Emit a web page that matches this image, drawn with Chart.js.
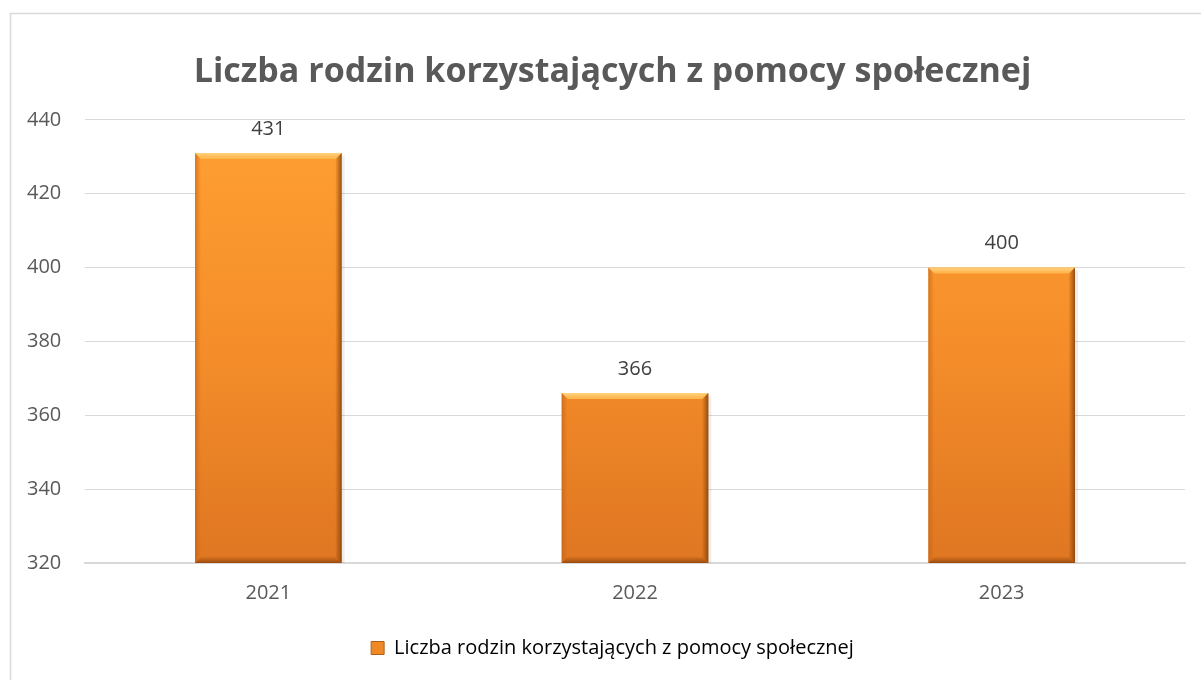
<!DOCTYPE html>
<html><head><meta charset="utf-8">
<script src="https://cdn.jsdelivr.net/npm/chart.js@4.4.1/dist/chart.umd.min.js"></script>
<style>html,body{margin:0;padding:0;background:#fff}#wrap{width:1201px;height:680px}</style>
</head><body><div id="wrap"><canvas id="c" width="1201" height="680"></canvas></div>
<script>
const categories = ['2021', '2022', '2023'];
const values = [431, 366, 400];
const seriesName = 'Liczba rodzin korzystających z pomocy społecznej';
const titleText = 'Liczba rodzin korzystających z pomocy społecznej';
const yMin = 320, yMax = 440, yStep = 20;

const FONT = "'Open Sans', 'Liberation Sans', sans-serif";
const TXT = '#595959';

function barGradient(ctx, top, bottom) {
  const g = ctx.createLinearGradient(0, top, 0, bottom);
  g.addColorStop(0, '#FFA032');
  g.addColorStop(0.5, '#F58E2A');
  g.addColorStop(1, '#DF7622');
  return g;
}

const framePlugin = {
  id: 'frame',
  beforeDraw(chart) {
    const c = chart.ctx;
    c.save();
    c.fillStyle = '#fff';
    c.fillRect(0, 0, chart.width, chart.height);
    c.strokeStyle = '#d9d9d9';
    c.lineWidth = 1.5;
    c.strokeRect(10.5, 13.5, 1400, 900);
    c.restore();
  }
};

const bevelPlugin = {
  id: 'bevel',
  afterDatasetsDraw(chart) {
    const c = chart.ctx;
    const area = chart.chartArea;
    const meta = chart.getDatasetMeta(0);
    c.save();
    meta.data.forEach((bar, i) => {
      const l = bar.x - bar.width / 2, r = bar.x + bar.width / 2;
      const t = bar.y, b = Math.min(bar.base, area.bottom);
      const d = 6;
      c.fillStyle = 'rgba(0,0,0,0.07)';
      c.fillRect(r, t + 3, 3, b - t - 3);
      let g = c.createLinearGradient(0, t, 0, t + d);
      g.addColorStop(0, '#FFD27A'); g.addColorStop(1, '#FFB048');
      c.fillStyle = g;
      c.beginPath(); c.moveTo(l, t); c.lineTo(r, t); c.lineTo(r - d, t + d); c.lineTo(l + d, t + d); c.closePath(); c.fill();
      g = c.createLinearGradient(l, 0, l + d, 0);
      g.addColorStop(0, 'rgba(190,95,20,0.6)'); g.addColorStop(1, 'rgba(200,100,20,0)');
      c.fillStyle = g;
      c.beginPath(); c.moveTo(l, t); c.lineTo(l + d, t + d); c.lineTo(l + d, b - d); c.lineTo(l, b); c.closePath(); c.fill();
      g = c.createLinearGradient(r - d, 0, r, 0);
      g.addColorStop(0, 'rgba(150,75,15,0.1)'); g.addColorStop(1, 'rgba(130,65,10,0.85)');
      c.fillStyle = g;
      c.beginPath(); c.moveTo(r, t); c.lineTo(r, b); c.lineTo(r - d, b - d); c.lineTo(r - d, t + d); c.closePath(); c.fill();
      g = c.createLinearGradient(0, b - d, 0, b);
      g.addColorStop(0, 'rgba(170,85,15,0.2)'); g.addColorStop(1, 'rgba(140,65,10,0.85)');
      c.fillStyle = g;
      c.beginPath(); c.moveTo(l, b); c.lineTo(l + d, b - d); c.lineTo(r - d, b - d); c.lineTo(r, b); c.closePath(); c.fill();
      c.fillStyle = '#404040';
      c.font = '20px ' + FONT;
      c.textAlign = 'center';
      c.textBaseline = 'middle';
      c.fillText(String(values[i]), bar.x, t - 24);
    });
    c.restore();
  }
};

new Chart(document.getElementById('c'), {
  type: 'bar',
  data: {
    labels: categories,
    datasets: [{
      label: seriesName,
      data: values,
      backgroundColor: (ctx) => {
        const a = ctx.chart.chartArea;
        if (!a) return '#F58E2A';
        return barGradient(ctx.chart.ctx, a.top, a.bottom);
      },
      borderWidth: 0,
      categoryPercentage: 1,
      barPercentage: 0.4
    }]
  },
  options: {
    responsive: false,
    animation: false,
    layout: { padding: { left: 40, right: 16, top: 0, bottom: 12 } },
    plugins: {
      title: {
        display: true,
        text: titleText,
        color: TXT,
        font: { family: FONT, size: 34, weight: 'bold' },
        padding: { top: 52, bottom: 27 }
      },
      legend: {
        position: 'bottom',
        labels: {
          color: TXT,
          font: { family: FONT, size: 20 },
          boxWidth: 13,
          boxHeight: 13,
          padding: 23,
          generateLabels(chart) {
            return [{
              text: seriesName,
              fillStyle: '#EE8A25',
              strokeStyle: '#B0601A',
              lineWidth: 1,
              datasetIndex: 0
            }];
          }
        }
      },
      tooltip: { enabled: false }
    },
    scales: {
      x: {
        grid: { display: false },
        border: { display: true, color: '#d9d9d9', width: 2 },
        ticks: { color: TXT, font: { family: FONT, size: 20 }, padding: 10 }
      },
      y: {
        min: yMin, max: yMax,
        afterFit(scale) { scale.width = 45; },
        grid: { color: '#d9d9d9', lineWidth: 1, drawTicks: false },
        border: { display: false },
        ticks: { stepSize: yStep, color: TXT, font: { family: FONT, size: 20 }, mirror: true, padding: -58 }
      }
    }
  },
  plugins: [framePlugin, bevelPlugin]
});
</script>
</body></html>
